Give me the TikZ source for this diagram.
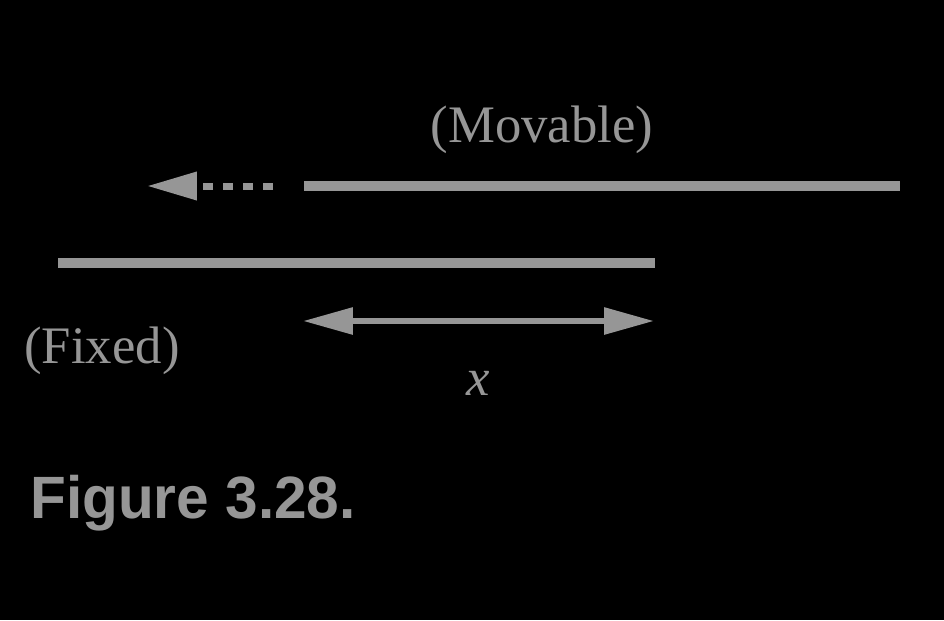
\documentclass[tikz,border=0pt]{standalone}
\usepackage{fontspec}
\setmainfont{Liberation Serif}
\newfontfamily\captionfont{Liberation Sans}
\usetikzlibrary{arrows.meta,positioning}
\definecolor{bargray}{RGB}{150,150,150}

\begin{document}
\begin{tikzpicture}[
    x=0.02cm, y=-0.02cm,
    bar/.style={draw=bargray, line width=0.2cm},
    motion/.style={draw=bargray, line width=0.14cm, dash pattern=on 0.2cm off 0.2cm,
        -{Triangle[length=1cm, width=0.54cm, fill=bargray]}},
    measure/.style={draw=bargray, line width=0.12cm,
        {Triangle[length=1cm, width=0.52cm]}-{Triangle[length=1cm, width=0.52cm]}},
    label/.style={text=bargray, inner sep=0pt, anchor=base, font=\fontsize{30}{36}\selectfont}
]
    % background and frame of the picture
    \fill[black] (0,0) rectangle (944,620);

    % the two slides
    \coordinate (movleft) at (304,186);
    \coordinate (movright) at (900,186);
    \coordinate (fixleft) at (58,263);
    \coordinate (fixright) at (655,263);
    \draw[bar] (movleft) -- (movright);
    \draw[bar] (fixleft) -- (fixright);

    % direction of motion
    \coordinate (dashstart) at (273,186);
    \coordinate (dashtip) at (147,186);
    \draw[motion] (dashstart) -- (dashtip);

    % overlap length
    \coordinate (overlapleft) at (303,321);
    \coordinate (overlapright) at (654,321);
    \draw[measure] (overlapleft) -- (overlapright);

    \node[label] (movable) at (542,142) {(Movable)};
    \node[label] (fixed) at (102,363) {(Fixed)};
    \node[label] (xlabel) at (478,395) {\itshape x};
    \node[text=bargray, inner sep=0pt, anchor=base west, xscale=0.98,
        font=\captionfont\bfseries\fontsize{34}{40}\selectfont] (caption) at (30,518) {Figure 3.28.};
\end{tikzpicture}
\end{document}
